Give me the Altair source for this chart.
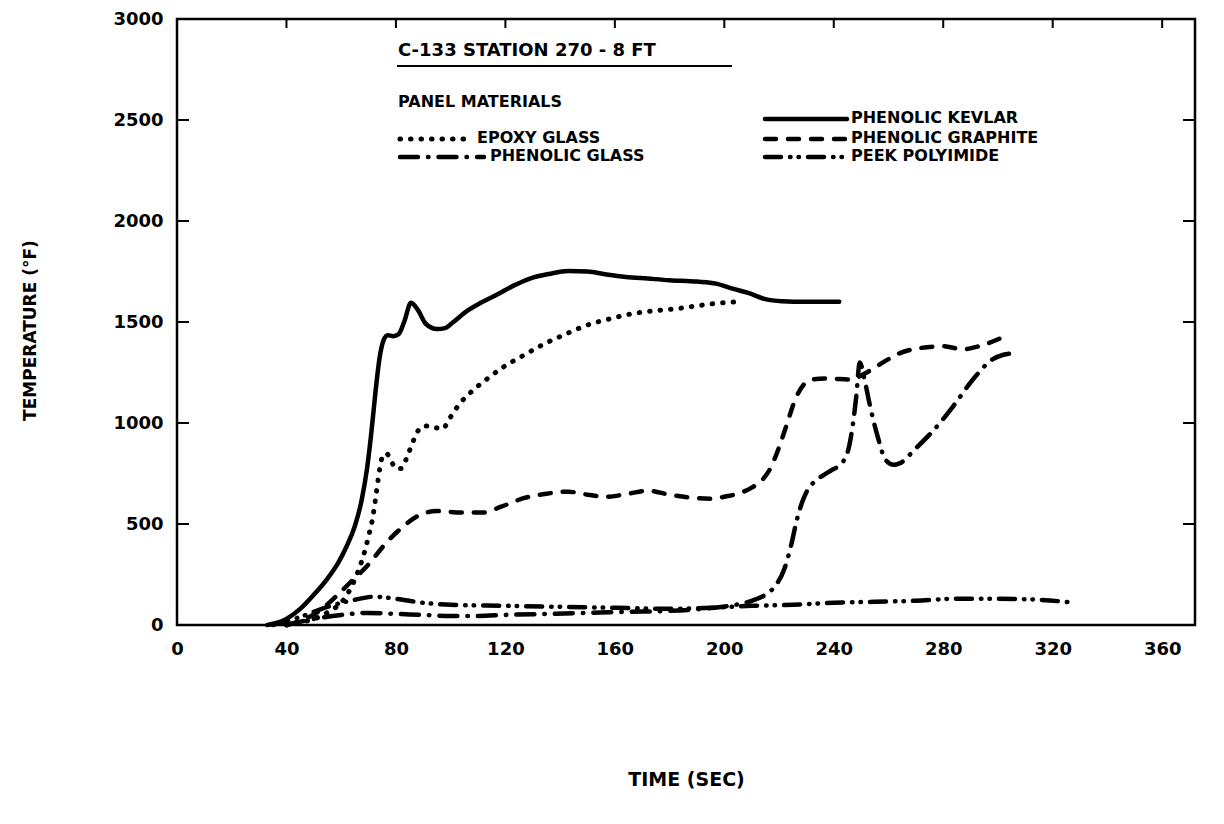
import altair as alt
import pandas as pd

# ---------------- data ----------------
kevlar_t = [33, 40, 45, 50, 55, 59, 62, 65, 67.5, 69.5, 71, 72.5, 74, 75.5, 77, 79, 81,
            83, 85.5, 88, 91, 95, 98, 101, 105.5, 111, 117, 123, 129, 136, 143, 150, 157, 164,
            172, 180, 190, 197, 203, 209, 215, 221, 230, 242]
kevlar_T = [0, 30, 80, 150, 230, 310, 390, 490, 620, 780, 950, 1150, 1320, 1410, 1435, 1430, 1440,
            1500, 1595, 1560, 1490, 1465, 1470, 1500, 1550, 1595, 1636, 1680, 1715, 1738, 1752, 1750, 1735, 1723,
            1715, 1707, 1700, 1690, 1665, 1643, 1613, 1603, 1600, 1600]

epoxy_t = [40, 46, 52, 56, 60, 63, 66, 68.5, 70, 71.5, 72.5, 73.5, 75, 76.5, 78, 80, 82, 84, 86, 88,
           90, 92.5, 95, 97, 99.5, 103, 108, 113, 119, 126, 134, 142, 150, 158, 166, 174, 182, 190,
           197, 205]
epoxy_T = [0, 15, 40, 70, 110, 170, 260, 360, 440, 530, 620, 720, 830, 850, 820, 775, 775, 830, 900, 960,
           985, 985, 975, 970, 1020, 1090, 1160, 1215, 1275, 1330, 1390, 1440, 1485, 1515, 1540, 1555, 1565, 1580,
           1592, 1600]

graphite_t = [40, 46, 52, 58, 64, 70, 76, 82, 88, 95, 104, 112, 118.5, 127, 135, 143, 150, 157, 165, 172,
              180, 188, 195, 200, 205, 210, 214, 217, 220, 223, 226, 229, 232, 238, 246, 252, 258, 264,
              272, 280, 287, 293, 301]
graphite_T = [0, 25, 70, 140, 220, 300, 400, 480, 540, 564, 557, 557, 586, 629, 650, 660, 645, 635, 650, 665,
              645, 630, 625, 635, 650, 680, 720, 780, 880, 1000, 1120, 1190, 1215, 1220, 1215, 1250, 1300, 1345,
              1372, 1380, 1365, 1380, 1420]

pglass_t = [40, 50, 60, 70, 80, 90, 100, 110, 120, 135, 150, 165, 180, 192, 202, 210, 215, 219, 222, 224.5,
            226.5, 228.5, 230.5, 233, 236, 239, 242, 245, 247, 248.2, 249.5, 251, 253, 256, 259, 262,
            264, 270, 277, 283.7, 291, 298, 302, 305.5]
pglass_T = [0, 30, 50, 60, 55, 50, 45, 45, 50, 55, 60, 65, 70, 80, 95, 120, 150, 200, 280, 400,
            520, 610, 670, 710, 740, 765, 790, 853, 995, 1129, 1300, 1230, 1100, 935, 816, 793,
            800, 875, 972, 1084, 1218, 1315, 1338, 1345]

peek_t = [35, 45, 55, 65, 72, 80, 90, 100, 120, 140, 160, 180, 195, 210, 225, 240, 255, 270, 285, 300, 315, 328]
peek_T = [0, 40, 90, 125, 140, 130, 110, 100, 95, 90, 85, 80, 85, 95, 100, 110, 115, 120, 130, 130, 125, 110]

x_ticks = [0, 40, 80, 120, 160, 200, 240, 280, 320, 360]
y_ticks = [0, 500, 1000, 1500, 2000, 2500, 3000]

chart_title = "C-133 STATION 270 - 8 FT"
legend_title = "PANEL MATERIALS"
names = ["PHENOLIC KEVLAR", "EPOXY GLASS", "PHENOLIC GRAPHITE", "PHENOLIC GLASS", "PEEK POLYIMIDE"]

# ---------------- styling ----------------
FONT = "DejaVu Sans"
W, H = 1018, 606
xs = alt.Scale(domain=[0, 372], nice=False, zero=False)
ys = alt.Scale(domain=[0, 3000], nice=False)

xaxis = alt.Axis(values=x_ticks, title="TIME (SEC)", ticks=False, domain=False, grid=False, format="d",
                 labelFont=FONT, labelFontWeight="bold", labelFontSize=18, labelColor="black",
                 labelPadding=15, labelFlush=False,
                 titleFont=FONT, titleFontWeight="bold", titleFontSize=19, titleColor="black",
                 titleY=160, titleBaseline="alphabetic")
yaxis = alt.Axis(values=y_ticks, title="TEMPERATURE (°F)", ticks=False, domain=False, grid=False, format="d",
                 labelFont=FONT, labelFontWeight="bold", labelFontSize=18, labelColor="black",
                 labelPadding=14, labelFlush=False,
                 titleFont=FONT, titleFontWeight="bold", titleFontSize=17, titleColor="black",
                 titleX=-147, titleY=311, titleAngle=270, titleBaseline="middle", titleAlign="center")

styles = {
    "PHENOLIC KEVLAR": dict(strokeWidth=4.5),
    "EPOXY GLASS": dict(strokeWidth=5, strokeDash=[0.5, 10]),
    "PHENOLIC GRAPHITE": dict(strokeWidth=4.5, strokeDash=[11, 12]),
    "PHENOLIC GLASS": dict(strokeWidth=4.5, strokeDash=[18, 10, 0.5, 10]),
    "PEEK POLYIMIDE": dict(strokeWidth=4.5, strokeDash=[16, 9, 0.5, 8, 0.5, 9]),
}
series = {
    "PHENOLIC KEVLAR": (kevlar_t, kevlar_T),
    "EPOXY GLASS": (epoxy_t, epoxy_T),
    "PHENOLIC GRAPHITE": (graphite_t, graphite_T),
    "PHENOLIC GLASS": (pglass_t, pglass_T),
    "PEEK POLYIMIDE": (peek_t, peek_T),
}

layers = []
for name in names:
    t, T = series[name]
    df = pd.DataFrame({"t": t, "T": T})
    layers.append(
        alt.Chart(df).mark_line(color="black", strokeCap="round", strokeJoin="round",
                                interpolate="monotone", **styles[name])
        .encode(x=alt.X("t:Q", scale=xs, axis=xaxis), y=alt.Y("T:Q", scale=ys, axis=yaxis))
    )

# inward ticks on left, right and top
ydf = pd.DataFrame({"T": y_ticks[1:-1]})
xdf = pd.DataFrame({"t": x_ticks[1:]})
layers.append(alt.Chart(ydf).mark_rule(color="black", strokeWidth=2)
              .encode(y=alt.Y("T:Q", scale=ys, axis=yaxis), x=alt.value(0), x2=alt.value(12)))
layers.append(alt.Chart(ydf).mark_rule(color="black", strokeWidth=2)
              .encode(y=alt.Y("T:Q", scale=ys, axis=yaxis), x=alt.value(W - 12), x2=alt.value(W)))
layers.append(alt.Chart(xdf).mark_rule(color="black", strokeWidth=2)
              .encode(x=alt.X("t:Q", scale=xs, axis=xaxis), y=alt.value(0), y2=alt.value(9)))

one = pd.DataFrame({"a": [0]})


def label(txt, x, y, size=16):
    return alt.Chart(one).mark_text(font=FONT, fontWeight="bold", fontSize=size, color="black",
                                    align="left", baseline="middle").encode(
        x=alt.value(x), y=alt.value(y), text=alt.value(txt))


def sample(name, x1, x2, y):
    st = dict(styles[name])
    return alt.Chart(one).mark_rule(color="black", strokeCap="round", **st).encode(
        x=alt.value(x1), x2=alt.value(x2), y=alt.value(y))


layers.append(label(chart_title, 221, 32, 18))
layers.append(alt.Chart(one).mark_rule(color="black", strokeWidth=2).encode(
    x=alt.value(220), x2=alt.value(555), y=alt.value(47)))
layers.append(label(legend_title, 221, 83))
# right column
layers.append(sample("PHENOLIC KEVLAR", 588, 670, 100))
layers.append(label("PHENOLIC KEVLAR", 674, 99))
layers.append(sample("PHENOLIC GRAPHITE", 588, 670, 120))
layers.append(label("PHENOLIC GRAPHITE", 674, 119))
layers.append(sample("PEEK POLYIMIDE", 588, 670, 138))
layers.append(label("PEEK POLYIMIDE", 674, 137))
# left column
layers.append(sample("EPOXY GLASS", 223, 293, 120))
layers.append(label("EPOXY GLASS", 300, 119))
layers.append(sample("PHENOLIC GLASS", 223, 307, 138))
layers.append(label("PHENOLIC GLASS", 313, 137))

chart = alt.layer(*layers).properties(
    width=W, height=H,
    autosize=alt.AutoSizeParams(type="none"),
    padding={"left": 169, "top": 11, "right": 10, "bottom": 190},
    background="white",
).configure_view(stroke="black", strokeWidth=2.5)

chart.save("out.html", embed_options={"renderer": "svg", "actions": False})
